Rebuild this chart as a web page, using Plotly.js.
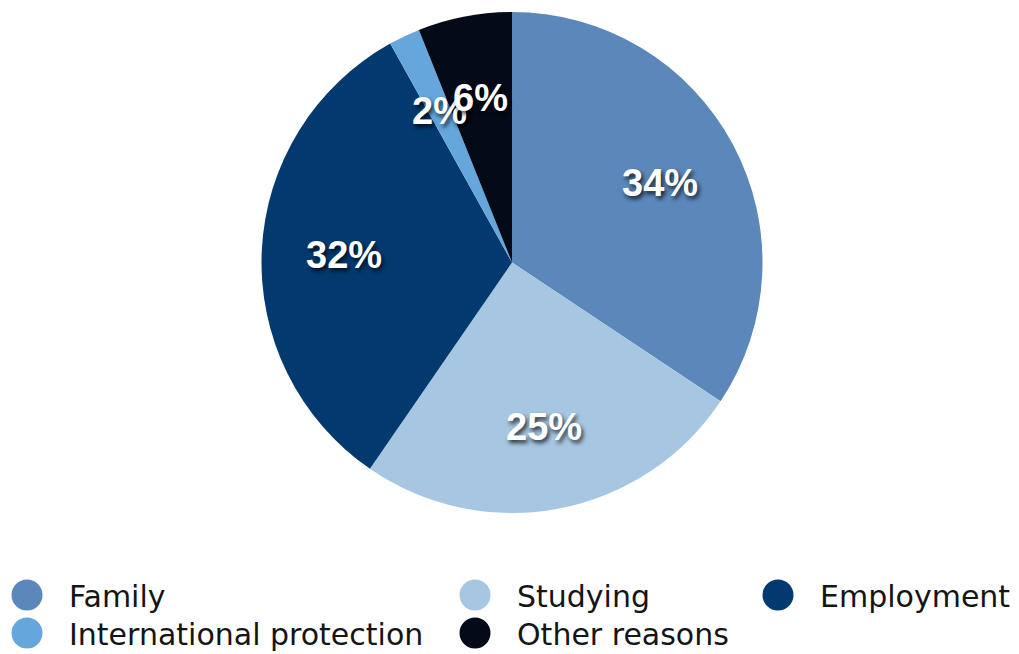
<!DOCTYPE html>
<html>
<head>
<meta charset="utf-8">
<script src="https://cdn.plot.ly/plotly-3.0.1.min.js"></script>
<style>html,body{margin:0;padding:0;background:#fff;}#chart{width:1019px;height:654px;}</style>
</head>
<body>
<div id="chart"></div>
<script>
const categories = ["Family", "Studying", "Employment", "International protection", "Other reasons"];
const shares = [34, 25, 32, 2, 6];
const colors = ["#5b87ba", "#a7c6e1", "#023a70", "#65a6dc", "#040a17"];

const legendCols = [0, 1, 2, 0, 1];
const legendRows = [0, 0, 0, 1, 1];
const colX = [27, 475, 778];
const rowY = [595, 633];
const W = 1019, H = 654;

// pie geometry (pixels)
const PIE_CX = 512, PIE_TOP = 12, PIE_BOTTOM = 513;
const PIE_R = (PIE_BOTTOM - PIE_TOP) / 2;
const PIE_CY = PIE_TOP + PIE_R;
const LABEL_FRAC = 0.67;

const shapes = [], annotations = [];
categories.forEach((c, i) => {
  const cx = colX[legendCols[i]], cy = rowY[legendRows[i]];
  shapes.push({type: "circle", xref: "paper", yref: "paper",
    x0: (cx - 15.5) / W, x1: (cx + 15.5) / W, y0: 1 - (cy + 15.5) / H, y1: 1 - (cy - 15.5) / H,
    fillcolor: colors[i], line: {width: 0}});
  annotations.push({xref: "paper", yref: "paper", x: (cx + 40) / W, y: 1 - (cy + 1) / H,
    xanchor: "left", yanchor: "middle", showarrow: false, text: c,
    font: {family: "DejaVu Sans, Verdana, sans-serif", size: 30, color: "#151515"}});
});

// slice labels at a fixed fraction of the radius, at each slice's mid-angle
const total = shares.reduce((a, b) => a + b, 0);
let cum = 0;
shares.forEach((v, i) => {
  const theta = 2 * Math.PI * (cum + v / 2) / total;
  cum += v;
  const r = LABEL_FRAC * PIE_R;
  const px = PIE_CX + r * Math.sin(theta);
  const py = PIE_CY - r * Math.cos(theta);
  annotations.push({xref: "paper", yref: "paper", x: px / W, y: 1 - py / H,
    xanchor: "center", yanchor: "middle", showarrow: false, text: v + "%",
    font: {family: "Liberation Sans, Arial, sans-serif", size: 38, color: "#ffffff", weight: "bold",
      shadow: "2px 3px 4px rgba(0,0,0,0.75)"}});
});

const data = [{
  type: "pie",
  labels: categories,
  values: shares,
  sort: false,
  direction: "clockwise",
  rotation: 0,
  marker: {colors: colors, line: {width: 0}},
  textinfo: "none",
  hoverinfo: "label+percent",
  domain: {x: [(PIE_CX - (W - PIE_CX)) / W, 1], y: [1 - PIE_BOTTOM / H, 1 - PIE_TOP / H]},
  showlegend: false
}];

const layout = {
  width: W, height: H,
  margin: {l: 0, r: 0, t: 0, b: 0},
  paper_bgcolor: "#ffffff",
  showlegend: false,
  shapes: shapes,
  annotations: annotations
};

Plotly.newPlot("chart", data, layout, {displayModeBar: false, staticPlot: true});
</script>
</body>
</html>
